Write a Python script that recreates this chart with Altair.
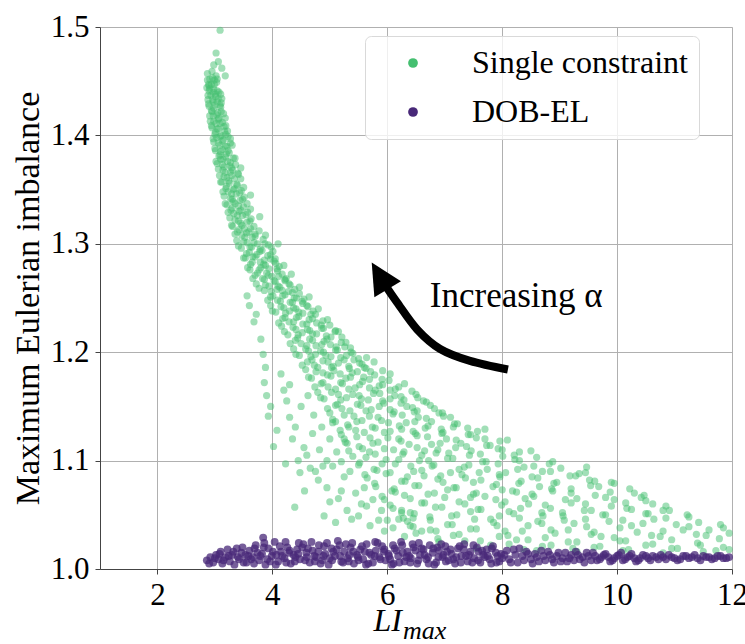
import altair as alt
import pandas as pd

series_names = ["Single constraint", "DOB-EL"]
series_colors = ["#44bf70", "#482878"]
x_ticks = [2, 4, 6, 8, 10, 12]
y_ticks = [1.0, 1.1, 1.2, 1.3, 1.4, 1.5]

# "Single constraint" points (LI_max, imbalance)
green_pts = [
    (3.09,1.497),(3.02,1.476),(3.06,1.468),(2.98,1.465),(3.12,1.462),(3.18,1.455),
    (2.87,1.457),(2.91,1.452),(2.95,1.459),(2.99,1.451),(2.89,1.447),(3.02,1.455),
    (2.86,1.444),(2.90,1.441),(2.94,1.447),(2.98,1.443),(3.03,1.449),(3.07,1.440),
    (2.88,1.433),(2.93,1.437),(2.97,1.431),(3.01,1.438),(3.06,1.434),(3.11,1.430),
    (2.90,1.427),(2.95,1.422),(3.00,1.428),(3.05,1.421),(3.10,1.426),(3.15,1.420),
    (2.92,1.413),(2.97,1.418),(3.02,1.411),(3.07,1.416),(3.13,1.412),(3.19,1.409),
    (2.95,1.407),(3.00,1.401),(3.06,1.406),(3.11,1.400),(3.17,1.404),(3.23,1.399),
    (2.98,1.394),(3.03,1.398),(3.09,1.391),(3.15,1.396),(3.21,1.390),(3.27,1.393),
    (3.01,1.386),(3.07,1.381),(3.13,1.387),(3.19,1.380),(3.25,1.384),(3.32,1.379),
    (3.04,1.374),(3.10,1.378),(3.16,1.371),(3.22,1.376),(3.29,1.370),(3.36,1.373),
    (3.08,1.363),(3.14,1.368),(3.21,1.361),(3.27,1.366),(3.34,1.360),(3.41,1.364),
    (3.12,1.357),(3.19,1.351),(3.25,1.356),(3.32,1.350),(3.39,1.354),(3.46,1.349),
    (3.16,1.344),(3.23,1.348),(3.30,1.341),(3.37,1.346),(3.44,1.340),(3.51,1.343),
    (3.21,1.336),(3.28,1.331),(3.35,1.337),(3.42,1.330),(3.50,1.334),(3.57,1.329),
    (3.26,1.324),(3.33,1.328),(3.41,1.321),(3.48,1.326),(3.56,1.320),(3.63,1.323),
    (3.31,1.316),(3.39,1.311),(3.47,1.317),(3.55,1.310),(3.62,1.314),(3.70,1.309),
    (3.38,1.303),(3.47,1.308),(3.56,1.301),(3.65,1.306),(3.74,1.300),(3.84,1.304),(3.93,1.299),
    (3.46,1.296),(3.55,1.291),(3.64,1.297),(3.73,1.290),(3.82,1.294),(3.92,1.289),(4.01,1.293),
    (3.45,1.370),(3.62,1.345),(3.78,1.325),(4.10,1.300),
    (3.53,1.287),(3.62,1.281),(3.70,1.288),(3.79,1.283),(3.88,1.280),(3.97,1.286),(4.06,1.282),(4.12,1.279),
    (3.61,1.276),(3.70,1.271),(3.80,1.278),(3.90,1.273),(3.99,1.270),(4.08,1.277),(4.17,1.272),(4.24,1.268),
    (3.72,1.263),(3.83,1.268),(3.94,1.261),(4.03,1.266),(4.13,1.260),(4.22,1.267),(4.31,1.262),(4.39,1.258),
    (3.86,1.257),(3.97,1.251),(4.08,1.258),(4.18,1.252),(4.28,1.256),(4.38,1.250),(4.47,1.254),(4.55,1.249),
    (3.97,1.243),(4.09,1.248),(4.20,1.241),(4.31,1.246),(4.41,1.240),(4.52,1.247),(4.62,1.242),(4.71,1.238),
    (4.06,1.237),(4.18,1.231),(4.30,1.238),(4.42,1.232),(4.53,1.236),(4.64,1.230),(4.75,1.235),(4.88,1.229),
    (4.16,1.224),(4.29,1.228),(4.41,1.221),(4.53,1.226),(4.65,1.220),(4.77,1.227),(4.89,1.222),(5.00,1.225),(5.09,1.219),
    (4.27,1.216),(4.40,1.211),(4.52,1.218),(4.65,1.212),(4.77,1.217),(4.90,1.210),(5.02,1.214),(5.15,1.219),(5.28,1.209),
    (4.37,1.203),(4.50,1.208),(4.63,1.201),(4.76,1.206),(4.89,1.200),(5.01,1.207),(5.13,1.202),(5.26,1.205),(5.40,1.199),
    (4.47,1.197),(4.61,1.191),(4.75,1.198),(4.88,1.192),(5.02,1.196),(5.15,1.190),(5.29,1.197),(5.42,1.193),(5.56,1.189),(5.64,1.195),
    (4.58,1.184),(4.73,1.188),(4.88,1.181),(5.03,1.186),(5.18,1.180),(5.33,1.187),(5.48,1.182),(5.63,1.185),(5.78,1.179),(5.92,1.183),
    (4.68,1.176),(4.85,1.171),(5.02,1.178),(5.19,1.172),(5.36,1.177),(5.52,1.170),(5.69,1.175),(5.86,1.169),(6.03,1.174),(6.20,1.168),
    (4.79,1.163),(4.97,1.168),(5.15,1.161),(5.33,1.166),(5.51,1.160),(5.69,1.167),(5.87,1.162),(6.05,1.165),(6.24,1.159),(6.43,1.164),(6.53,1.158),
    (4.90,1.157),(5.10,1.151),(5.29,1.158),(5.48,1.152),(5.67,1.156),(5.86,1.150),(6.05,1.157),(6.24,1.153),(6.44,1.149),(6.63,1.155),(6.82,1.148),
    (5.00,1.144),(5.21,1.148),(5.42,1.141),(5.63,1.146),(5.84,1.140),(6.05,1.147),(6.26,1.142),(6.47,1.145),(6.68,1.139),(6.90,1.144),(7.10,1.140),
    (5.10,1.136),(5.33,1.131),(5.56,1.137),(5.79,1.130),(6.02,1.135),(6.25,1.129),(6.48,1.136),(6.71,1.132),(6.94,1.129),(7.17,1.134),(7.40,1.130),(7.57,1.127),
    (5.20,1.124),(5.45,1.128),(5.70,1.121),(5.95,1.126),(6.20,1.120),(6.45,1.127),(6.70,1.122),(6.95,1.125),(7.20,1.119),(7.45,1.124),(7.70,1.120),(7.96,1.118),
    (5.30,1.116),(5.57,1.111),(5.84,1.117),(6.11,1.110),(6.38,1.115),(6.65,1.109),(6.92,1.116),(7.19,1.112),(7.46,1.109),(7.73,1.114),(8.00,1.110),(8.30,1.108),
    (5.40,1.104),(5.69,1.108),(5.98,1.101),(6.27,1.106),(6.56,1.100),(6.85,1.107),(7.14,1.102),(7.43,1.105),(7.72,1.099),(8.01,1.104),(8.30,1.100),(8.60,1.103),(8.82,1.097),
    (5.50,1.096),(5.82,1.091),(6.14,1.097),(6.46,1.090),(6.78,1.095),(7.10,1.089),(7.42,1.096),(7.74,1.092),(8.06,1.089),(8.38,1.094),(8.70,1.090),(9.02,1.093),(9.34,1.088),(9.47,1.094),
    (5.65,1.084),(5.98,1.088),(6.31,1.081),(6.64,1.086),(6.97,1.080),(7.30,1.087),(7.63,1.082),(7.96,1.085),(8.29,1.079),(8.62,1.084),(8.95,1.080),(9.28,1.086),(9.61,1.081),(9.95,1.079),
    (5.80,1.076),(6.14,1.071),(6.48,1.077),(6.82,1.070),(7.16,1.075),(7.50,1.069),(7.84,1.076),(8.18,1.072),(8.52,1.069),(8.86,1.074),(9.20,1.070),(9.54,1.077),(9.88,1.071),(10.22,1.074),(10.47,1.068),
    (5.95,1.064),(6.30,1.068),(6.65,1.061),(7.00,1.066),(7.35,1.060),(7.70,1.067),(8.05,1.062),(8.40,1.065),(8.75,1.059),(9.10,1.064),(9.45,1.060),(9.80,1.066),(10.15,1.061),(10.50,1.063),(10.85,1.058),
    (6.10,1.056),(6.47,1.051),(6.84,1.057),(7.21,1.050),(7.58,1.055),(7.95,1.049),(8.32,1.056),(8.69,1.052),(9.06,1.049),(9.43,1.054),(9.80,1.050),(10.17,1.056),(10.54,1.051),(10.91,1.054),(11.25,1.048),
    (6.35,1.044),(6.74,1.048),(7.13,1.041),(7.52,1.046),(7.91,1.040),(8.30,1.047),(8.69,1.042),(9.08,1.045),(9.47,1.039),(9.86,1.044),(10.25,1.040),(10.64,1.046),(11.03,1.041),(11.42,1.043),(11.85,1.038),
    (6.75,1.036),(7.15,1.031),(7.55,1.037),(7.95,1.030),(8.35,1.035),(8.75,1.029),(9.15,1.036),(9.55,1.032),(9.95,1.029),(10.35,1.034),(10.75,1.030),(11.15,1.036),(11.55,1.031),(11.95,1.033),
    (7.35,1.026),(7.80,1.022),(8.25,1.027),(8.70,1.021),(9.15,1.025),(9.60,1.020),(10.05,1.026),(10.50,1.022),(10.95,1.019),(11.40,1.024),(11.85,1.020),
    (8.60,1.017),(9.30,1.016),(10.10,1.017),(10.80,1.015),(11.50,1.016),(11.95,1.018),
    (3.56,1.252),(3.60,1.243),(3.68,1.228),(3.72,1.235),(3.80,1.212),(3.84,1.198),(3.88,1.186),(3.86,1.172),
    (3.90,1.160),(3.93,1.141),(3.97,1.150),(4.02,1.113),(4.08,1.128),(4.15,1.180),(4.20,1.165),(4.23,1.097),
    (4.30,1.140),(4.35,1.120),(4.39,1.057),(4.48,1.089),(4.56,1.072),(4.60,1.105),(4.70,1.125),(4.75,1.090),
    (4.82,1.110),(4.90,1.049),(4.95,1.075),(5.05,1.095),(5.10,1.043),(5.15,1.065),(5.25,1.085),(5.38,1.046),
    (5.45,1.070),(5.55,1.060),(5.64,1.058),(5.70,1.040),(5.85,1.045),(5.95,1.035),(6.10,1.038),(6.30,1.030),
    (6.50,1.033),(6.90,1.025),
    (4.30,1.170),(4.50,1.150),(4.62,1.160),(4.72,1.142),(4.86,1.131),(5.00,1.120),(5.12,1.108),(5.20,1.099),
    (4.40,1.131),(4.55,1.112),(4.66,1.093),(4.80,1.082),(5.00,1.062),(5.20,1.072),(5.30,1.054),(5.50,1.049),
    (5.60,1.075),(5.75,1.064),(5.90,1.054),(6.00,1.045),(6.20,1.046),(6.40,1.040),(6.60,1.035),(4.25,1.155),
    (4.45,1.100),(5.35,1.090),(4.95,1.100),(5.25,1.120),(5.05,1.135),(4.88,1.095),(6.25,1.052),(6.45,1.047),
    # second pass, read between the first rows
    (2.87,1.451),(2.90,1.446),(2.96,1.453),(2.99,1.447),(3.04,1.452),
    (2.88,1.437),(2.91,1.443),(2.97,1.440),(3.01,1.436),(3.04,1.441),(3.10,1.438),
    (2.89,1.429),(2.96,1.433),(2.98,1.425),(3.04,1.431),(3.09,1.428),(3.12,1.434),
    (2.91,1.418),(2.94,1.423),(3.03,1.419),(3.06,1.415),(3.11,1.422),(3.18,1.416),
    (2.94,1.409),(2.98,1.413),(3.04,1.406),(3.09,1.411),(3.16,1.408),(3.22,1.404),
    (2.97,1.397),(3.01,1.403),(3.09,1.399),(3.13,1.395),(3.19,1.401),(3.27,1.397),
    (3.00,1.388),(3.06,1.393),(3.10,1.385),(3.18,1.390),(3.23,1.386),(3.30,1.391),
    (3.02,1.376),(3.09,1.382),(3.14,1.378),(3.20,1.383),(3.27,1.375),(3.35,1.379),
    (3.06,1.369),(3.13,1.373),(3.18,1.366),(3.26,1.372),(3.31,1.368),(3.40,1.365),
    (3.10,1.357),(3.16,1.362),(3.24,1.358),(3.29,1.363),(3.38,1.355),(3.45,1.360),
    (3.14,1.348),(3.20,1.353),(3.29,1.346),(3.34,1.351),(3.43,1.347),(3.50,1.352),
    (3.18,1.337),(3.27,1.342),(3.32,1.339),(3.41,1.335),(3.48,1.341),(3.56,1.337),
    (3.23,1.329),(3.30,1.333),(3.39,1.326),(3.45,1.331),(3.54,1.327),(3.62,1.332),
    (3.29,1.317),(3.35,1.322),(3.45,1.319),(3.51,1.314),(3.61,1.321),(3.68,1.316),
    (3.35,1.309),(3.42,1.313),(3.52,1.306),(3.59,1.311),(3.70,1.307),(3.77,1.312),(3.88,1.308),
    (3.41,1.298),(3.50,1.302),(3.61,1.297),(3.68,1.301),(3.79,1.295),(3.87,1.300),(3.98,1.297),
    (3.50,1.287),(3.60,1.292),(3.66,1.288),(3.78,1.293),(3.86,1.285),(3.97,1.290),(4.05,1.286),
    (3.57,1.278),(3.65,1.283),(3.77,1.276),(3.85,1.281),(3.94,1.277),(4.03,1.284),(4.09,1.275),(4.20,1.280),
    (3.66,1.268),(3.74,1.273),(3.86,1.267),(3.93,1.271),(4.05,1.265),(4.11,1.270),(4.22,1.266),(4.33,1.272),
    (3.77,1.259),(3.88,1.262),(3.98,1.256),(4.10,1.261),(4.17,1.257),(4.29,1.263),(4.35,1.255),(4.47,1.260),
    (3.92,1.248),(4.01,1.252),(4.14,1.247),(4.22,1.253),(4.35,1.246),(4.42,1.250),(4.53,1.245),(4.64,1.251),
    (4.00,1.238),(4.15,1.242),(4.23,1.236),(4.37,1.241),(4.46,1.237),(4.60,1.243),(4.67,1.235),(4.80,1.240),
    (4.11,1.227),(4.22,1.232),(4.37,1.228),(4.46,1.233),(4.60,1.226),(4.70,1.231),(4.85,1.225),(4.96,1.230),
    (4.21,1.219),(4.36,1.223),(4.45,1.216),(4.61,1.221),(4.70,1.217),(4.86,1.222),(4.94,1.215),(5.10,1.220),(5.21,1.214),
    (4.31,1.208),(4.44,1.213),(4.60,1.206),(4.70,1.211),(4.86,1.207),(4.95,1.212),(5.11,1.205),(5.20,1.209),(5.36,1.204),
    (4.41,1.198),(4.58,1.203),(4.67,1.196),(4.84,1.201),(4.93,1.197),(5.10,1.202),(5.19,1.195),(5.37,1.200),(5.50,1.194),
    (4.52,1.188),(4.69,1.193),(4.79,1.186),(4.97,1.191),(5.06,1.187),(5.25,1.193),(5.34,1.185),(5.52,1.190),(5.60,1.186),(5.77,1.191),
    (4.63,1.177),(4.76,1.182),(4.96,1.179),(5.07,1.183),(5.28,1.176),(5.39,1.181),(5.59,1.177),(5.71,1.182),(5.91,1.175),(6.05,1.180),
    (4.74,1.168),(4.88,1.172),(5.10,1.166),(5.22,1.171),(5.44,1.167),(5.57,1.173),(5.79,1.165),(5.92,1.170),(6.14,1.166),(6.30,1.171),
    (4.84,1.158),(5.03,1.163),(5.19,1.156),(5.40,1.161),(5.55,1.157),(5.76,1.162),(5.92,1.155),(6.13,1.160),(6.29,1.156),(6.50,1.161),(6.68,1.154),
    (4.96,1.148),(5.13,1.152),(5.35,1.146),(5.54,1.151),(5.72,1.147),(5.94,1.153),(6.12,1.145),(6.34,1.150),(6.52,1.146),(6.75,1.151),(6.96,1.144),
    (5.05,1.138),(5.25,1.142),(5.47,1.136),(5.69,1.141),(5.90,1.137),(6.10,1.143),(6.33,1.135),(6.54,1.140),(6.77,1.136),(6.98,1.141),(7.22,1.134),
    (5.18,1.128),(5.31,1.133),(5.60,1.126),(5.74,1.131),(6.05,1.127),(6.21,1.132),(6.49,1.125),(6.66,1.130),(6.97,1.126),(7.15,1.131),(7.41,1.124),(7.70,1.129),
    (5.27,1.117),(5.47,1.122),(5.75,1.116),(6.01,1.121),(6.24,1.118),(6.52,1.123),(6.77,1.115),(7.03,1.120),(7.28,1.116),(7.55,1.121),(7.79,1.114),(8.09,1.119),
    (5.33,1.109),(5.51,1.113),(5.79,1.106),(5.95,1.111),(6.29,1.108),(6.52,1.112),(6.60,1.105),(6.88,1.110),(7.07,1.107),(7.38,1.113),(7.62,1.106),(7.93,1.111),(8.21,1.105),(8.50,1.109),
    (5.52,1.098),(5.63,1.103),(5.91,1.097),(6.20,1.101),(6.41,1.095),(6.72,1.100),(6.81,1.096),(7.05,1.102),(7.34,1.094),(7.66,1.099),(7.93,1.097),(8.22,1.101),(8.55,1.095),(8.88,1.099),
    (5.61,1.087),(5.77,1.092),(6.05,1.089),(6.35,1.085),(6.60,1.091),(6.93,1.086),(7.25,1.092),(7.36,1.084),(7.60,1.089),(7.95,1.087),(8.27,1.092),(8.52,1.085),(8.84,1.090),(9.18,1.086),(9.45,1.089),
    (5.78,1.079),(6.12,1.074),(6.25,1.081),(6.55,1.077),(6.88,1.083),(7.20,1.075),(7.50,1.080),(7.90,1.078),(8.00,1.073),(8.33,1.081),(8.65,1.076),(8.90,1.079),(9.20,1.074),(9.52,1.082),(9.68,1.076),(9.90,1.080),
    (5.91,1.067),(6.08,1.072),(6.40,1.065),(6.71,1.069),(7.05,1.073),(7.45,1.066),(7.55,1.070),(7.89,1.064),(8.25,1.071),(8.55,1.067),(8.88,1.072),(9.30,1.065),(9.62,1.068),(9.95,1.064),(10.30,1.070),(10.42,1.066),
    (6.05,1.059),(6.25,1.054),(6.60,1.061),(6.95,1.057),(7.25,1.062),(7.63,1.055),(7.99,1.059),(8.12,1.053),(8.46,1.060),(8.84,1.056),(9.20,1.061),(9.55,1.054),(9.90,1.058),(10.25,1.055),(10.62,1.060),(10.80,1.054),
    (6.28,1.047),(6.40,1.052),(6.75,1.045),(7.12,1.049),(7.45,1.053),(7.80,1.046),(8.20,1.051),(8.62,1.044),(8.71,1.049),(9.05,1.052),(9.45,1.046),(9.75,1.050),(10.10,1.045),(10.50,1.051),(10.85,1.047),(11.22,1.050),
    (6.45,1.039),(6.85,1.035),(7.05,1.041),(7.45,1.037),(7.85,1.043),(8.05,1.035),(8.45,1.040),(8.85,1.036),(9.25,1.042),(9.60,1.034),(10.05,1.038),(10.45,1.042),(10.80,1.035),(11.25,1.039),(11.60,1.036),(11.80,1.041),
    (6.88,1.028),(7.25,1.032),(7.62,1.026),(8.10,1.031),(8.45,1.027),(8.92,1.033),(9.30,1.025),(9.72,1.030),(10.15,1.026),(10.60,1.031),(10.95,1.027),(11.38,1.032),(11.78,1.028),
    (7.55,1.019),(8.12,1.023),(8.38,1.018),(8.85,1.022),(9.23,1.019),(9.70,1.021),(10.20,1.018),(10.62,1.023),(11.05,1.019),(11.45,1.022),(11.72,1.017),
]

# "DOB-EL" points (LI_max, imbalance)
purple_pts = [
    (2.86,1.008),(2.92,1.011),(2.97,1.006),(3.02,1.013),(3.06,1.009),(3.10,1.016),(3.13,1.005),(3.18,1.011),
    (3.22,1.018),(3.26,1.007),(3.30,1.013),(3.34,1.004),(3.38,1.019),(3.42,1.009),(3.46,1.015),(3.50,1.006),
    (3.55,1.006),(3.60,1.017),(3.66,1.011),(3.71,1.022),(3.77,1.008),(3.82,1.014),(3.88,1.004),(3.93,1.019),
    (3.99,1.012),(4.04,1.025),(4.10,1.007),(4.15,1.016),(4.21,1.010),(4.26,1.020),(4.32,1.005),(4.37,1.013),
    (4.43,1.018),(4.48,1.009),(4.54,1.023),(4.59,1.015),(4.65,1.006),(4.70,1.017),(4.76,1.011),(4.81,1.022),
    (4.87,1.008),(4.92,1.014),(4.98,1.004),(5.03,1.019),(5.09,1.012),(5.14,1.026),(5.20,1.007),(5.25,1.016),
    (5.31,1.010),(5.36,1.020),(5.42,1.005),(5.47,1.013),(5.53,1.018),(5.58,1.009),(5.64,1.023),(5.69,1.015),
    (5.75,1.006),(5.80,1.017),(5.86,1.011),(5.91,1.021),(5.97,1.008),(6.02,1.014),(6.08,1.004),(6.13,1.019),
    (6.19,1.012),(6.24,1.025),(6.30,1.007),(6.35,1.016),(6.41,1.010),(6.46,1.020),(6.52,1.005),(6.57,1.013),
    (6.63,1.018),(6.68,1.009),(6.74,1.022),(6.79,1.015),(6.85,1.006),(6.90,1.017),(6.96,1.011),(7.01,1.021),
    (7.07,1.008),(7.12,1.014),(7.18,1.005),(7.23,1.019),(7.29,1.012),(7.34,1.023),(7.40,1.007),(7.45,1.016),
    (7.51,1.010),(7.56,1.020),(7.62,1.006),(7.67,1.013),(7.73,1.018),(7.78,1.009),(7.84,1.021),(7.89,1.015),
    (7.95,1.007),
    (3.58,1.012),(3.68,1.005),(3.74,1.015),(3.84,1.029),(3.85,1.020),(3.96,1.007),(4.07,1.013),(4.13,1.021),
    (4.24,1.006),(4.29,1.015),(4.40,1.011),(4.46,1.024),(4.57,1.008),(4.62,1.019),(4.73,1.012),(4.84,1.005),
    (4.90,1.021),(5.00,1.010),(5.06,1.016),(5.17,1.022),(5.23,1.006),(5.34,1.013),(5.39,1.024),(5.50,1.008),
    (5.61,1.016),(5.67,1.005),(5.78,1.012),(5.83,1.024),(5.94,1.016),(6.05,1.009),(6.10,1.022),(6.21,1.006),
    (6.27,1.015),(6.38,1.012),(6.44,1.023),(6.54,1.008),(6.60,1.019),(6.71,1.011),(6.82,1.004),(6.87,1.020),
    (6.98,1.013),(7.04,1.016),(7.15,1.009),(7.26,1.021),(7.37,1.012),(7.48,1.006),(7.59,1.016),(7.70,1.011),
    (7.81,1.005),(7.92,1.012),
    (2.90,1.005),(3.00,1.010),(3.08,1.014),(3.15,1.008),(3.24,1.012),(3.32,1.016),(3.40,1.011),(3.48,1.020),
    (3.53,1.013),(3.63,1.009),(3.69,1.019),(3.79,1.012),(3.86,1.024),(3.91,1.009),(4.01,1.016),(4.06,1.004),
    (4.17,1.012),(4.23,1.025),(4.30,1.017),(4.39,1.007),(4.45,1.014),(4.52,1.020),(4.60,1.011),(4.68,1.025),
    (4.74,1.007),(4.80,1.016),(4.89,1.012),(4.95,1.024),(5.04,1.008),(5.12,1.018),(5.18,1.012),(5.28,1.023),
    (5.33,1.007),(5.41,1.016),(5.49,1.011),(5.56,1.021),(5.63,1.004),(5.72,1.013),(5.79,1.025),(5.88,1.009),
    (5.95,1.018),(6.03,1.012),(6.11,1.005),(6.16,1.017),(6.26,1.022),(6.33,1.011),(6.40,1.006),(6.49,1.017),
    (6.55,1.024),(6.65,1.013),(6.72,1.005),(6.80,1.019),(6.89,1.011),(6.94,1.023),(7.02,1.007),(7.10,1.018),
    (7.20,1.011),(7.28,1.006),(7.33,1.018),(7.42,1.013),(7.50,1.022),(7.58,1.008),(7.65,1.017),(7.75,1.012),
    (7.82,1.019),(7.90,1.006),(7.98,1.014),
    (8.00,1.010),(8.08,1.017),(8.15,1.006),(8.23,1.013),(8.30,1.019),(8.38,1.008),(8.45,1.014),(8.53,1.005),
    (8.60,1.011),(8.68,1.017),(8.75,1.008),(8.83,1.013),(8.90,1.006),(8.98,1.015),(9.05,1.010),(9.13,1.007),
    (9.20,1.013),(9.28,1.016),(9.35,1.009),(9.43,1.006),(9.50,1.012),(9.58,1.015),(9.65,1.008),(9.73,1.011),
    (9.80,1.014),(9.88,1.007),(9.95,1.010),(10.03,1.013),(10.10,1.008),(10.18,1.011),(10.25,1.014),(10.33,1.007),
    (10.40,1.010),(10.50,1.012),(10.58,1.008),(10.68,1.011),(10.76,1.013),(10.85,1.009),(10.95,1.011),(11.05,1.008),
    (11.15,1.012),(11.25,1.010),(11.35,1.013),(11.45,1.008),(11.55,1.011),(11.65,1.009),(11.75,1.012),(11.85,1.010),
    (11.95,1.011),
    (8.04,1.013),(8.12,1.009),(8.20,1.018),(8.27,1.006),(8.35,1.012),(8.42,1.016),(8.50,1.009),(8.57,1.014),
    (8.64,1.007),(8.72,1.012),(8.80,1.016),(8.87,1.009),(8.95,1.012),(9.02,1.007),(9.10,1.015),(9.17,1.010),
    (9.25,1.008),(9.32,1.013),(9.40,1.011),(9.47,1.015),(9.55,1.008),(9.62,1.012),(9.70,1.009),(9.77,1.013),
    (9.85,1.011),(9.92,1.008),(10.00,1.012),(10.07,1.015),(10.14,1.009),(10.22,1.012),(10.30,1.010),(10.37,1.008),
    (10.45,1.013),(10.54,1.010),(10.62,1.012),(10.72,1.009),(10.80,1.011),(10.90,1.013),(11.00,1.010),(11.10,1.009),
    (11.20,1.012),(11.30,1.011),(11.40,1.010),(11.50,1.012),(11.60,1.011),(11.70,1.010),(11.80,1.012),(11.90,1.010),
]

green_x = [p[0] for p in green_pts]
green_y = [p[1] for p in green_pts]
purple_x = [p[0] for p in purple_pts]
purple_y = [p[1] for p in purple_pts]

# annotation: curved arrow "Increasing alpha" (data coordinates)
arrow_x = [8.10, 7.44, 6.92, 6.52, 6.17, 6.00]
arrow_y = [1.184, 1.192, 1.203, 1.221, 1.246, 1.259]
head_x = [5.868]
head_y = [1.2704]
label_x = [6.74]
label_y = [1.2413]
label_text = ["Increasing α"]

FONT = "Liberation Serif"

points = pd.DataFrame({
    "x": green_x + purple_x,
    "y": green_y + purple_y,
    "series": [series_names[0]] * len(green_x) + [series_names[1]] * len(purple_x),
})
arrow_df = pd.DataFrame({"x": arrow_x, "y": arrow_y, "i": list(range(len(arrow_x)))})
head_df = pd.DataFrame({"x": head_x, "y": head_y})
label_df = pd.DataFrame({"x": label_x, "y": label_y, "t": label_text})
one = pd.DataFrame({"k": [0]})

x_axis = alt.Axis(values=x_ticks, title=None, grid=True, gridColor="#b0b0b0", gridWidth=1,
                  domainColor="#444444", tickColor="#444444", tickSize=5, labelFont=FONT,
                  labelFontSize=31, labelColor="black", labelPadding=6, labelFlush=False)
y_axis = alt.Axis(values=y_ticks, format=".1f", title="Maximum Eulerian imbalance",
                  grid=True, gridColor="#b0b0b0", gridWidth=1,
                  domainColor="#444444", tickColor="#444444", tickSize=5, labelFont=FONT,
                  labelFontSize=31, labelColor="black", labelPadding=6, labelFlush=False,
                  titleFont=FONT, titleFontSize=34, titleFontWeight="normal", titleColor="black",
                  titleAngle=270, titleX=-62, titleY=271, titleAlign="center",
                  titleBaseline="alphabetic")

X = alt.X("x:Q", scale=alt.Scale(domain=[1, 12], nice=False, zero=False), axis=x_axis)
Y = alt.Y("y:Q", scale=alt.Scale(domain=[1.0, 1.5], nice=False, zero=False), axis=y_axis)

color = alt.Color("series:N", scale=alt.Scale(domain=series_names, range=series_colors),
                  sort=series_names,
                  legend=alt.Legend(title=None, orient="none", legendX=265, legendY=9,
                                    padding=11, cornerRadius=6, strokeColor="#d9d9d9",
                                    fillColor="rgba(255,255,255,0.8)", labelFont=FONT,
                                    labelFontSize=32, labelColor="black", labelLimit=400,
                                    symbolType="circle", symbolSize=95, symbolOffset=21,
                                    labelOffset=43, rowPadding=17, symbolOpacity=1,
                                    symbolStrokeWidth=0))

green_layer = alt.Chart(points).transform_filter(
    alt.datum.series == series_names[0]
).mark_circle(size=52, opacity=0.5).encode(x=X, y=Y, color=color)

purple_layer = alt.Chart(points).transform_filter(
    alt.datum.series == series_names[1]
).mark_circle(size=62, opacity=0.75).encode(x=X, y=Y, color=color)

shaft = alt.Chart(arrow_df).mark_line(color="black", strokeWidth=8, interpolate="cardinal",
                                      strokeCap="butt").encode(x=X, y=Y, order="i:Q")
head = alt.Chart(head_df).mark_point(shape="M0,-1L-1,1L1,1Z", size=961, angle=329, filled=True,
                                     color="black", opacity=1, strokeWidth=0).encode(x=X, y=Y)
label = alt.Chart(label_df).mark_text(font=FONT, fontSize=35, align="left", baseline="alphabetic",
                                      color="black").encode(x=X, y=Y, text="t:N")
xt1 = alt.Chart(one).mark_text(text="LI", font=FONT, fontSize=32, fontStyle="italic",
                               align="right", baseline="alphabetic", color="black").encode(
    x=alt.value(302), y=alt.value(604))
xt2 = alt.Chart(one).mark_text(text="max", font=FONT, fontSize=26, fontStyle="italic",
                               align="left", baseline="alphabetic", color="black").encode(
    x=alt.value(303), y=alt.value(612))

chart = alt.layer(green_layer, purple_layer, shaft, head, label, xt1, xt2).properties(
    width=632, height=542,
    autosize=alt.AutoSizeParams(type="none"),
    padding={"left": 100, "top": 27, "right": 13, "bottom": 75},
    background="white",
).configure_view(stroke="#444444", strokeWidth=1).configure(font=FONT)

chart.save("out.html", embed_options={"renderer": "svg", "actions": False})
